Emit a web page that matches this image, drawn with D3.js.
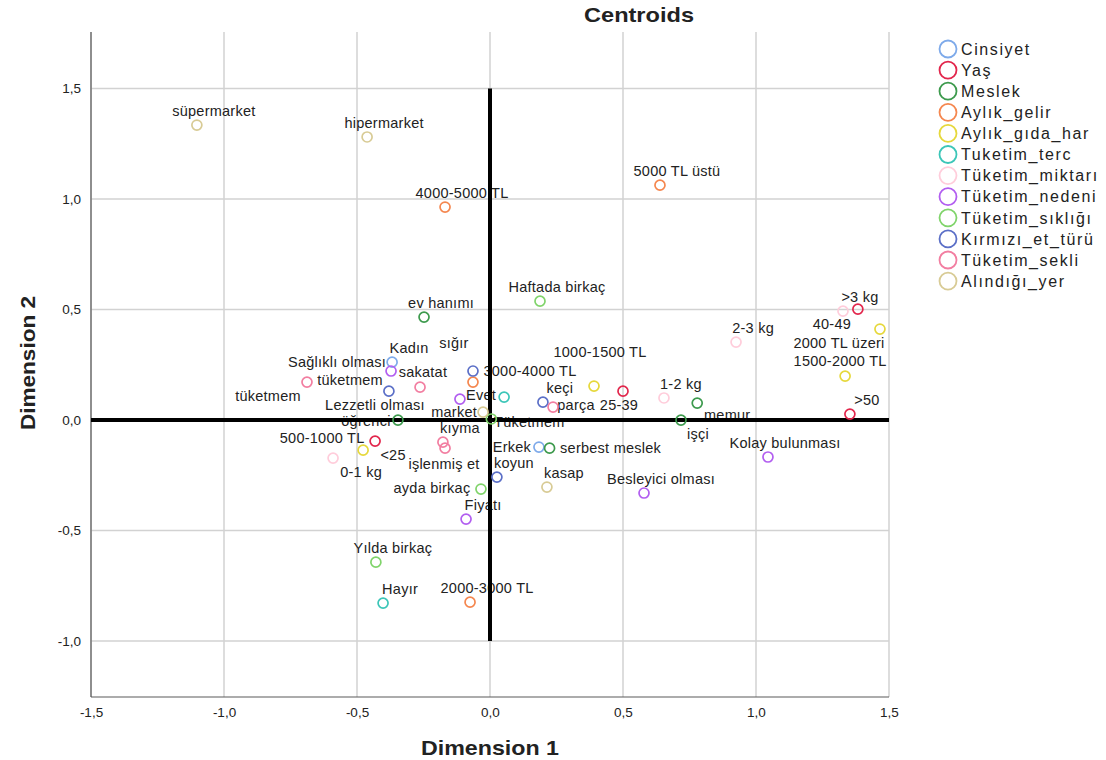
<!DOCTYPE html>
<html>
<head>
<meta charset="utf-8">
<script src="https://cdn.jsdelivr.net/npm/d3@7"></script>
<style>
  body { margin: 0; background: #fff; }
  text { font-family: Arial, "Liberation Sans", sans-serif; }
</style>
</head>
<body>
<svg id="chart" width="1106" height="760"></svg>
<script>
// Category centroids on the two dimensions: [label, dim1, dim2]
const cinsiyet = [["Kadın", -0.368, 0.262], ["Erkek", 0.184, -0.122]];
const yas = [["<25", -0.432, -0.095], ["25-39", 0.500, 0.131], ["40-49", 1.383, 0.502], [">50", 1.353, 0.027]];
const meslek = [["ev hanımı", -0.248, 0.466], ["öğrenci", -0.346, 0.000], ["serbest meslek", 0.224, -0.127], ["memur", 0.779, 0.077], ["işçi", 0.718, 0.000]];
const aylikGelir = [["4000-5000 TL", -0.169, 0.964], ["5000 TL üstü", 0.639, 1.063], ["3000-4000 TL", -0.064, 0.172], ["2000-3000 TL", -0.075, -0.824]];
const aylikGidaHar = [["500-1000 TL", -0.477, -0.136], ["1000-1500 TL", 0.391, 0.154], ["1500-2000 TL", 1.335, 0.199], ["2000 TL üzeri", 1.466, 0.412]];
const tuketimTerc = [["Evet", 0.053, 0.104], ["Hayır", -0.402, -0.828]];
const tuketimMiktari = [["0-1 kg", -0.590, -0.172], ["1-2 kg", 0.654, 0.100], ["2-3 kg", 0.925, 0.353], [">3 kg", 1.327, 0.493]];
const tuketimNedeni = [["Sağlıklı olması", -0.372, 0.222], ["Lezzetli olması", -0.113, 0.095], ["Fiyatı", -0.090, -0.448], ["Besleyici olması", 0.579, -0.330], ["Kolay bulunması", 1.045, -0.167]];
const tuketimSikligi = [["Haftada birkaç", 0.188, 0.538], ["ayda birkaç", -0.034, -0.312], ["Yılda birkaç", -0.429, -0.643], ["Tüketmem", 0.005, 0.005]];
const kirmiziEtTuru = [["sığır", -0.064, 0.222], ["sakatat", -0.380, 0.131], ["keçi", 0.199, 0.081], ["koyun", 0.026, -0.258]];
const tuketimSekli = [["tüketmem", -0.688, 0.172], ["tüketmem", -0.263, 0.149], ["kıyma", -0.177, -0.100], ["işlenmiş et", -0.169, -0.127], ["parça", 0.237, 0.059]];
const alindigiYer = [["süpermarket", -1.102, 1.335], ["hipermarket", -0.462, 1.281], ["market", -0.026, 0.036], ["kasap", 0.214, -0.303]];

const seriesNames = ["Cinsiyet", "Yaş", "Meslek", "Aylık_gelir", "Aylık_gıda_har", "Tuketim_terc",
  "Tüketim_miktarı", "Tüketim_nedeni", "Tüketim_sıklığı", "Kırmızı_et_türü", "Tüketim_sekli", "Alındığı_yer"];
const seriesData = [cinsiyet, yas, meslek, aylikGelir, aylikGidaHar, tuketimTerc,
  tuketimMiktari, tuketimNedeni, tuketimSikligi, kirmiziEtTuru, tuketimSekli, alindigiYer];

const xTicks = [-1.5, -1.0, -0.5, 0.0, 0.5, 1.0, 1.5];
const yTicks = [1.5, 1.0, 0.5, 0.0, -0.5, -1.0];

// Marker colours, one per variable
const seriesColors = ["#7eaaea", "#e2264c", "#3d9a4d", "#f5874f", "#e6d83c", "#3cc6b8",
  "#ffcddb", "#b25ef0", "#80d46b", "#5b6fc7", "#f27ea1", "#d8cb95"];

// Label placement (pixel offset of the label centre from its marker)
const defaultNudge = [17, -14];
const labelNudge = {
  "Cinsiyet:1": [-27, 0],
  "Yaş:0": [18, 14], "Yaş:1": [-4, 14], "Yaş:2": [-26, 15],
  "Meslek:1": [-32, 1], "Meslek:2": [61, 0], "Meslek:3": [30, 12], "Meslek:4": [17, 14],
  "Aylık_gelir:2": [57, -11],
  "Aylık_gıda_har:0": [-41, -12], "Aylık_gıda_har:1": [6, -34], "Aylık_gıda_har:2": [-5, -15], "Aylık_gıda_har:3": [-41, 14],
  "Tuketim_terc:0": [-23, -2],
  "Tüketim_miktarı:0": [28, 14],
  "Tüketim_nedeni:0": [-54, -9], "Tüketim_nedeni:1": [-85, 6],
  "Tüketim_sıklığı:1": [-49, -1], "Tüketim_sıklığı:3": [38, 3],
  "Kırmızı_et_türü:0": [-19, -28], "Kırmızı_et_türü:1": [34, -19],
  "Tüketim_sekli:0": [-39, 14], "Tüketim_sekli:1": [-70, -7], "Tüketim_sekli:3": [-1, 16], "Tüketim_sekli:4": [23, -2],
  "Alındığı_yer:2": [-29, 0]
};

const points = [];
seriesData.forEach((arr, si) => arr.forEach((d, i) => points.push({
  series: seriesNames[si], color: seriesColors[si], key: seriesNames[si] + ":" + i,
  label: d[0], d1: d[1], d2: d[2]
})));

const svg = d3.select("#chart");
const x = d3.scaleLinear().domain([-1.5, 1.5]).range([91, 889]);
const y = d3.scaleLinear().domain([-1.253, 1.756]).range([697, 32]);
const fmt = v => v.toFixed(1).replace(".", ",");

// Grid
const grid = svg.append("g");
grid.selectAll("line.vx").data(xTicks).join("line")
  .attr("x1", d => x(d)).attr("x2", d => x(d)).attr("y1", 32).attr("y2", 697)
  .attr("stroke", "#d2d2d2").attr("stroke-width", 1.5);
grid.selectAll("line.hy").data(yTicks).join("line")
  .attr("x1", 91).attr("x2", 889).attr("y1", d => y(d)).attr("y2", d => y(d))
  .attr("stroke", "#d2d2d2").attr("stroke-width", 1.5);

// Axes
const xAxis = svg.append("g").attr("transform", "translate(0,697)")
  .call(d3.axisBottom(x).tickValues(xTicks).tickFormat(fmt).tickSize(0).tickPadding(10));
const yAxis = svg.append("g").attr("transform", "translate(91,0)")
  .call(d3.axisLeft(y).tickValues(yTicks).tickFormat(fmt).tickSize(0).tickPadding(10));
[xAxis, yAxis].forEach(g => {
  g.select(".domain").attr("stroke", "#5a5a5a").attr("stroke-width", 1.2);
  g.selectAll("text").attr("font-size", 13.5).attr("fill", "#222").attr("font-family", "Arial, 'Liberation Sans', sans-serif");
});
yAxis.select(".domain").attr("d", "M0,32V697");
xAxis.select(".domain").attr("d", `M${x(-1.5)},0H${x(1.5)}`);

// Point labels
svg.append("g").selectAll("text").data(points).join("text")
  .attr("x", d => x(d.d1) + (labelNudge[d.key] || defaultNudge)[0])
  .attr("y", d => y(d.d2) + (labelNudge[d.key] || defaultNudge)[1])
  .attr("dy", "0.35em").attr("text-anchor", "middle")
  .attr("font-size", 14.5).attr("fill", "#222").attr("letter-spacing", 0.25)
  .text(d => d.label);

// Reference lines through the origin
svg.append("line").attr("x1", x(-1.5)).attr("x2", x(1.5)).attr("y1", y(0)).attr("y2", y(0))
  .attr("stroke", "#000").attr("stroke-width", 4);
svg.append("line").attr("x1", x(0)).attr("x2", x(0)).attr("y1", y(1.5)).attr("y2", y(-1.0))
  .attr("stroke", "#000").attr("stroke-width", 4);

// Centroid markers
svg.append("g").selectAll("circle").data(points).join("circle")
  .attr("cx", d => x(d.d1)).attr("cy", d => y(d.d2)).attr("r", 5)
  .attr("fill", "none").attr("stroke", d => d.color).attr("stroke-width", 1.7);

// Titles
svg.append("text").attr("x", 639).attr("y", 15).attr("dy", "0.35em").attr("text-anchor", "middle")
  .attr("font-size", 21).attr("font-weight", "bold").attr("fill", "#222")
  .attr("textLength", 110).attr("lengthAdjust", "spacingAndGlyphs").text("Centroids");
svg.append("text").attr("x", 490).attr("y", 748).attr("dy", "0.35em").attr("text-anchor", "middle")
  .attr("font-size", 21).attr("font-weight", "bold").attr("fill", "#222")
  .attr("textLength", 138).attr("lengthAdjust", "spacingAndGlyphs").text("Dimension 1");
svg.append("text").attr("transform", "translate(28,363) rotate(-90)").attr("dy", "0.35em").attr("text-anchor", "middle")
  .attr("font-size", 21).attr("font-weight", "bold").attr("fill", "#222")
  .attr("textLength", 134).attr("lengthAdjust", "spacingAndGlyphs").text("Dimension 2");

// Legend
const legend = svg.append("g").attr("transform", "translate(948,49)");
const li = legend.selectAll("g").data(seriesNames).join("g")
  .attr("transform", (d, i) => `translate(0,${i * 21.1})`);
li.append("circle").attr("r", 8.5).attr("fill", "none")
  .attr("stroke", (d, i) => seriesColors[i]).attr("stroke-width", 1.8);
li.append("text").attr("x", 13).attr("dy", "0.36em").attr("font-size", 16)
  .attr("letter-spacing", 1.6).attr("fill", "#222").text(d => d);
</script>
</body>
</html>
